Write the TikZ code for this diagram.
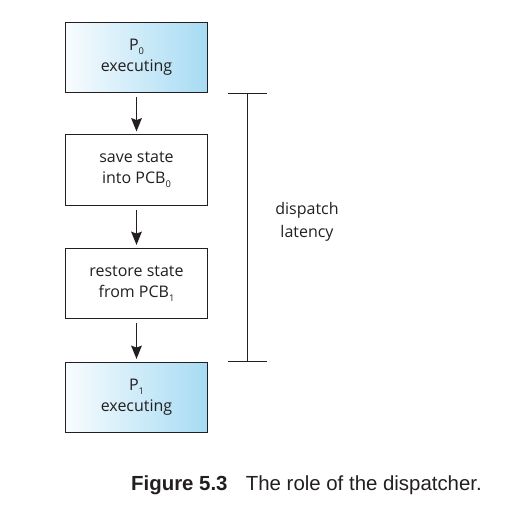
\documentclass[tikz,border=0pt]{standalone}
\usepackage{fontspec}
\setmainfont{Open Sans}
\newfontfamily\capfont{Liberation Sans}
\usetikzlibrary{arrows.meta}
\definecolor{boxBlue}{RGB}{166,219,243}
\definecolor{lineGray}{RGB}{35,31,32}
\newcommand\subidx[1]{\raisebox{-0.45ex}{\fontsize{7}{7}\selectfont#1}}

\begin{document}
\begin{tikzpicture}[x=0.75pt,y=-0.75pt,
  stepbox/.style={draw=lineGray,line width=0.8pt,fill=white,minimum width=107pt,minimum height=53pt,
    align=center,font=\fontsize{12}{15.5}\selectfont,text=lineGray},
  procbox/.style={stepbox,left color=boxBlue!8,right color=boxBlue},
  flow/.style={-{Stealth[length=10pt,width=8pt,inset=1.5pt]},line width=1.1pt,draw=lineGray,
    shorten <=3pt,shorten >=2pt}]
\useasboundingbox (0,0) rectangle (520,509);
% the four steps
\node[procbox] (p0) at (136.5,57.5) {P\subidx{0}\\executing};
\node[stepbox] (save) at (136.5,170) {save state\\into PCB\subidx{0}};
\node[stepbox] (restore) at (136.5,283.5) {restore state\\from PCB\subidx{1}};
\node[procbox] (p1) at (136.5,397.5) {P\subidx{1}\\executing};
\draw[flow] (p0) -- (save);
\draw[flow] (save) -- (restore);
\draw[flow] (restore) -- (p1);
% latency bracket
\coordinate (latTop) at ([xshift=29.6pt]p0.south east);
\coordinate (latBot) at ([xshift=29.6pt]p1.north east);
\draw[lineGray,line width=0.8pt] (latTop) -- (latBot);
\draw[lineGray,line width=0.8pt] ([xshift=-14.6pt]latTop) -- ([xshift=14.6pt]latTop);
\draw[lineGray,line width=0.8pt] ([xshift=-14.6pt]latBot) -- ([xshift=14.6pt]latBot);
\node[align=center,font=\fontsize{12}{17}\selectfont,text=lineGray] (lat) at (307,222) {dispatch\\latency};
% caption
\node[font=\capfont\fontsize{15.3}{17}\selectfont,text=lineGray] (cap) at (306.5,485)
  {\textbf{Figure 5.3}\hspace{0.9em}The role of the dispatcher.};
\end{tikzpicture}
\end{document}
